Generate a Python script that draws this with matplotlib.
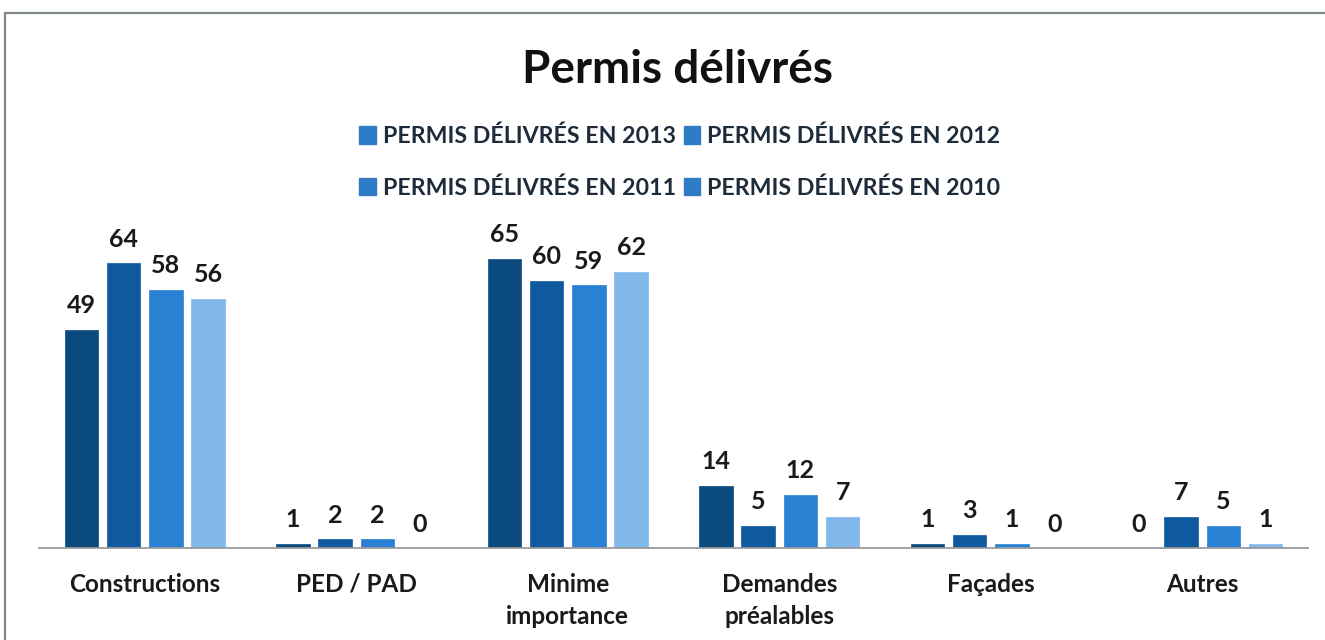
import matplotlib
matplotlib.use("Agg")
import matplotlib.pyplot as plt
from matplotlib.patches import Rectangle, Patch
import numpy as np

plt.rcParams['font.family'] = ['Lato', 'DejaVu Sans']

categories = ["Constructions", "PED / PAD", "Minime\nimportance", "Demandes\npréalables", "Façades", "Autres"]
series_names = ["PERMIS DÉLIVRÉS EN 2013", "PERMIS DÉLIVRÉS EN 2012",
                "PERMIS DÉLIVRÉS EN 2011", "PERMIS DÉLIVRÉS EN 2010"]
v2013 = [49, 1, 65, 14, 1, 0]
v2012 = [64, 2, 60, 5, 3, 7]
v2011 = [58, 2, 59, 12, 1, 5]
v2010 = [56, 0, 62, 7, 0, 1]
values = [v2013, v2012, v2011, v2010]
colors = ["#0b4a7e", "#0f5a9f", "#2a80d2", "#80b8ec"]
legend_color = "#2f7bc6"

fig = plt.figure(figsize=(13.25, 6.4), dpi=100)
fig.patch.set_facecolor("white")
# outer frame
fig.patches.append(Rectangle((5/1325, -0.05), 1.2, 1 - 13/640 + 0.05, transform=fig.transFigure,
                             fill=False, edgecolor="#7f8a80", linewidth=1.6))

ax = fig.add_axes([39/1325, 92/640, (1308-39)/1325, 0.487])
x = np.arange(len(categories))
width = 0.158
offsets = [-0.3, -0.1, 0.1, 0.3]
for vals, off, c in zip(values, offsets, colors):
    bars = ax.bar(x + off, vals, width, color=c, edgecolor=c, linewidth=0.5)
    for b, v in zip(bars, vals):
        ax.annotate(str(v), (b.get_x() + b.get_width()/2, v), xytext=(0, 9),
                    textcoords="offset points", ha="center", va="bottom",
                    fontsize=18, fontweight="bold", color="#1a1a1a")

ax.set_xlim(-0.5, len(categories) - 0.5)
ax.set_ylim(0, 70)
ax.set_xticks(x)
ax.set_xticklabels(categories, fontsize=17.5, fontweight="bold", color="#1a1a1a", linespacing=1.45)
ax.tick_params(axis="x", length=0, pad=18)
ax.set_yticks([])
for s in ["top", "right", "left"]:
    ax.spines[s].set_visible(False)
ax.spines["bottom"].set_color("#9a9a9a")
ax.spines["bottom"].set_linewidth(1.3)

fig.text(0.511, 1 - 70/640, "Permis délivrés", ha="center", va="center",
         fontsize=33, fontweight="bold", color="#111111")

# legend filled row-wise: reorder for matplotlib column-major fill
order = [0, 2, 1, 3]
handles = [Patch(facecolor=legend_color, edgecolor=legend_color) for _ in series_names]
leg = fig.legend([handles[i] for i in order], [series_names[i] for i in order], ncol=2,
                 loc="center", frameon=False, prop={"weight": "bold", "size": 16.7},
                 handlelength=0.7, handleheight=0.8, handletextpad=0.3, columnspacing=0.35,
                 labelspacing=1.3)
leg.set_bbox_to_anchor((0.513, 1 - 162/640), transform=fig.transFigure)
for t in leg.get_texts():
    t.set_color("#1d2b3a")

fig.savefig("out.png", dpi=100, facecolor="white")
